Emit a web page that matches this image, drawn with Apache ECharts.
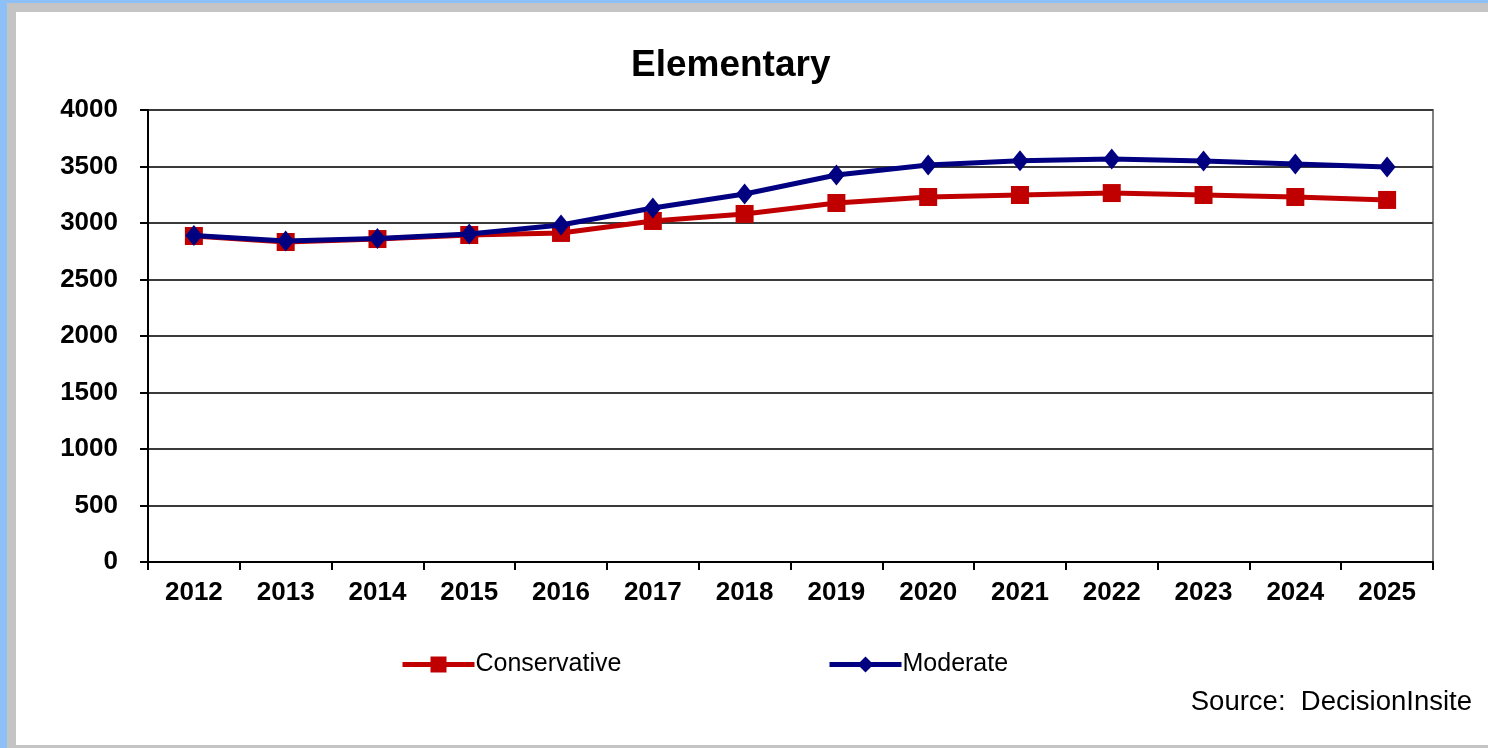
<!DOCTYPE html>
<html><head><meta charset="utf-8">
<style>html,body{margin:0;padding:0;background:#fff;}#c{width:1488px;height:748px;}</style>
<script src="https://cdn.jsdelivr.net/npm/echarts@6/dist/echarts.min.js"></script>
</head><body><div id="c"></div>
<script>
const years = ['2012','2013','2014','2015','2016','2017','2018','2019','2020','2021','2022','2023','2024','2025'];
const conservative = [2885,2832,2858,2894,2912,3018,3080,3177,3230,3248,3265,3248,3230,3204];
const moderate = [2890,2841,2862,2903,2982,3133,3257,3425,3513,3550,3566,3549,3522,3496];
const yTicks = [0,500,1000,1500,2000,2500,3000,3500,4000];

const chart = echarts.init(document.getElementById('c'));
const FONT = '"Liberation Sans", Arial, sans-serif';
chart.setOption({
  backgroundColor: '#fff',
  animation: false,
  title: {text: 'Elementary', left: 626, top: 42,
    textStyle: {fontFamily: FONT, fontSize: 37, fontWeight: 'bold', color: '#000'}},
  graphic: [
    {type:'rect', shape:{x:0,y:0,width:1488,height:3}, style:{fill:'#8cc0f6'}, z:-1},
    {type:'rect', shape:{x:0,y:0,width:7,height:748}, style:{fill:'#8cc0f6'}, z:-1},
    {type:'rect', shape:{x:7,y:3,width:1481,height:9}, style:{fill:'#c4c4c4'}, z:-1},
    {type:'rect', shape:{x:7,y:3,width:9,height:745}, style:{fill:'#c4c4c4'}, z:-1},
    {type:'rect', shape:{x:7,y:745,width:1481,height:3}, style:{fill:'#c4c4c4'}, z:-1},
    {type:'text', right: 16, top: 688, style:{text:'Source:  DecisionInsite', font:'27.5px ' + FONT, fill:'#000'}}
  ],
  legend: [
    {data:['Conservative'], left: 400, top: 652, padding: 0, itemWidth: 72, itemHeight: 20,
      lineStyle:{width:5},
      textStyle:{fontFamily: FONT, fontSize: 25, color:'#000', padding:[0,0,0,-4]}},
    {data:['Moderate'], left: 827, top: 652, padding: 0, itemWidth: 72, itemHeight: 20,
      lineStyle:{width:5},
      textStyle:{fontFamily: FONT, fontSize: 25, color:'#000', padding:[0,0,0,-4]}}
  ],
  grid: {left: 148, right: 55, top: 110, bottom: 186, show: true, borderColor: '#808080', borderWidth: 2},
  xAxis: {type:'category', data: years, boundaryGap: true,
    axisLine:{lineStyle:{color:'#000', width:2}},
    axisTick:{show:true, length:8, lineStyle:{color:'#000', width:2}},
    axisLabel:{fontFamily: FONT, fontSize: 26, fontWeight:'bold', color:'#000', margin: 18}},
  yAxis: {type:'value', min: yTicks[0], max: yTicks[yTicks.length-1], interval: 500,
    axisLine:{show:true, lineStyle:{color:'#000', width:2}},
    axisTick:{show:true, length:8, lineStyle:{color:'#000', width:2}},
    splitLine:{lineStyle:{color:'#3a3a3a', width:2}},
    axisLabel:{fontFamily: FONT, fontSize: 26, fontWeight:'bold', color:'#000', margin: 30,
      formatter: v => String(v)}},
  series: [
    {name:'Conservative', type:'line', data: conservative, color:'#c00000',
      symbol:'rect', symbolSize: 18, lineStyle:{width:5, color:'#c00000'},
      itemStyle:{color:'#c00000'}, z: 2},
    {name:'Moderate', type:'line', data: moderate, color:'#000080',
      symbol:'diamond', symbolSize: [17,21], lineStyle:{width:5, color:'#000080'},
      itemStyle:{color:'#000080'}, z: 3}
  ]
});
</script></body></html>
